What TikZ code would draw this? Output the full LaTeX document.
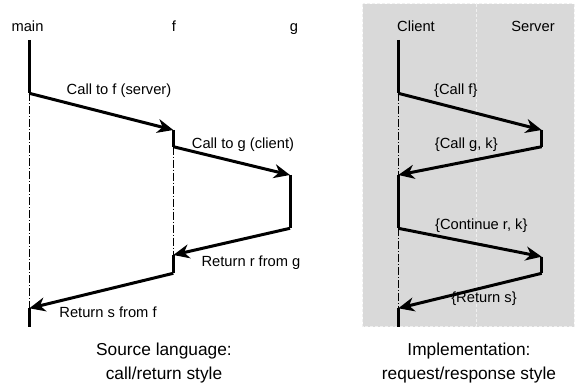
\documentclass[tikz,border=0pt]{standalone}
\usepackage{fontspec}
\setmainfont{Liberation Sans}
\usetikzlibrary{arrows.meta}
\begin{document}
\begin{tikzpicture}[x=1pt,y=-1pt,
  life/.style={line width=3pt},
  msg/.style={line width=3pt,-{Stealth[length=16pt,width=14pt,inset=5pt]}},
  waitline/.style={line width=0.9pt,dash pattern=on 8pt off 2pt on 1pt off 2pt},
  lbl/.style={font=\fontsize{14.7}{17}\selectfont,inner sep=0pt,anchor=base},
  captext/.style={font=\fontsize{17.3}{23.3}\selectfont,inner sep=0pt,align=center,anchor=base},
  lane/.style={fill=black!15,draw=black!6,line width=1pt,dash pattern=on 3pt off 2pt}]
\useasboundingbox (0,0) rectangle (576,385);
% lanes
\draw[lane] (362.5,4) rectangle (476,326.5);
\draw[lane] (476,4) rectangle (574,326.5);
% ---------- left: call/return ----------
\coordinate (m0) at (29.3,40);
\coordinate (m1) at (29.3,93.3);
\coordinate (m2) at (29.3,308.3);
\coordinate (m3) at (29.3,326.7);
\coordinate (f1) at (173.3,130);
\coordinate (f2) at (173.3,146.7);
\coordinate (f3) at (173.3,255);
\coordinate (f4) at (173.3,273.3);
\coordinate (g1) at (290,175);
\coordinate (g2) at (290,228.3);
\draw[waitline] (m1) -- (m2);
\draw[waitline] (f2) -- (f3);
\draw[life] (m0) -- (m1);
\draw[msg] (m1) -- (f1);
\draw[life] (f1) -- (f2);
\draw[msg] (f2) -- (g1);
\draw[life] (g1) -- (g2);
\draw[msg] (g2) -- (f3);
\draw[life] (f3) -- (f4);
\draw[msg] (f4) -- (m2);
\draw[life] (m2) -- (m3);
\node[lbl] (tmain) at (27.5,31.7) {main};
\node[lbl] (tf) at (174,31.7) {f};
\node[lbl] (tg) at (294,31.7) {g};
\node[lbl] (l1) at (119,95) {Call to f (server)};
\node[lbl] (l2) at (243,149) {Call to g (client)};
\node[lbl] (l3) at (251,266) {Return r from g};
\node[lbl] (l4) at (108,317.3) {Return s from f};
\node[captext] (c1) at (164,379) {Source language:\\call/return style};
% ---------- right: request/response ----------
\coordinate (c0) at (398.3,40);
\coordinate (cA) at (398.3,93.3);
\coordinate (cB) at (398.3,175);
\coordinate (cC) at (398.3,228.3);
\coordinate (cD) at (398.3,308.3);
\coordinate (cE) at (398.3,326.7);
\coordinate (s1) at (541.7,130);
\coordinate (s2) at (541.7,146.7);
\coordinate (s3) at (541.7,256.7);
\coordinate (s4) at (541.7,273.3);
\draw[waitline] (cA) -- (cB);
\draw[waitline] (cC) -- (cD);
\draw[life] (c0) -- (cA);
\draw[msg] (cA) -- (s1);
\draw[life] (s1) -- (s2);
\draw[msg] (s2) -- (cB);
\draw[life] (cB) -- (cC);
\draw[msg] (cC) -- (s3);
\draw[life] (s3) -- (s4);
\draw[msg] (s4) -- (cD);
\draw[life] (cD) -- (cE);
\node[lbl] (tc) at (416,31.7) {Client};
\node[lbl] (ts) at (533,31.7) {Server};
\node[lbl] (r1) at (455.8,95) {\{Call f\}};
\node[lbl] (r2) at (466.3,149) {\{Call g, k\}};
\node[lbl] (r3) at (481.3,229.3) {\{Continue r, k\}};
\node[lbl] (r4) at (484,302.3) {\{Return s\}};
\node[captext] (c2) at (469,379) {Implementation:\\request/response style};
\end{tikzpicture}
\end{document}
